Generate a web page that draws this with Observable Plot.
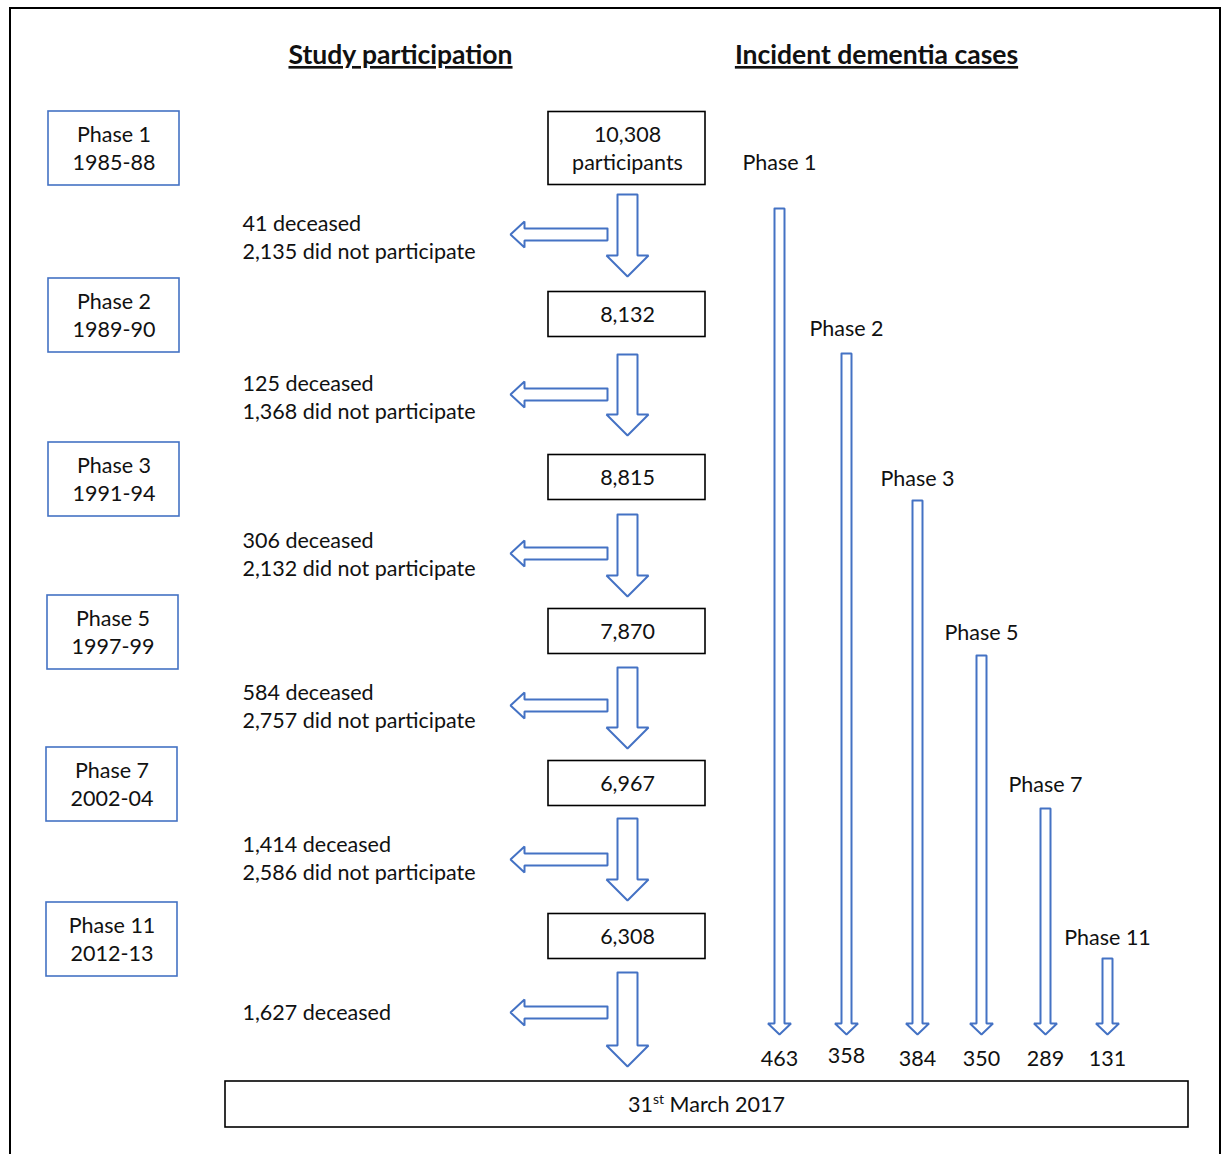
<!DOCTYPE html>
<html><head><meta charset="utf-8">
<script src="https://cdn.jsdelivr.net/npm/d3@7"></script>
<script src="https://cdn.jsdelivr.net/npm/@observablehq/plot@0.6"></script>
<style>body{margin:0;background:#fff} #chart{width:1223px;height:1154px}</style>
</head><body><div id="chart"></div>
<script>
// ---- data ----
const phases = ["Phase 1", "Phase 2", "Phase 3", "Phase 5", "Phase 7", "Phase 11"];
const years = ["1985-88", "1989-90", "1991-94", "1997-99", "2002-04", "2012-13"];
const participants = [10308, 8132, 8815, 7870, 6967, 6308];
const deceased = [41, 125, 306, 584, 1414, 1627];
const didNotParticipate = [2135, 1368, 2132, 2757, 2586, null];
const dementiaCases = [463, 358, 384, 350, 289, 131];
const titles = ["Study participation", "Incident dementia cases"];
const endLabel = "31st March 2017";

// ---- layout (pixels) ----
const W = 1223, H = 1154;
const BLUE = "#4472C4", INK = "#111";
const FS = 21.5, TFS = 26.5, LH = 28 / 21.5;
const phaseBoxY = [148, 315, 479, 632, 784, 939];
const phaseBoxX = [[48, 179], [48, 179], [48, 179], [47, 178], [46, 177], [46, 177]];
const partBoxY = [148, 314, 477, 631, 783, 936];
const downTop = [194, 354, 514, 667, 818, 972];
const downTip = [276, 435, 596, 748, 900, 1066];
const leftY = [234, 394, 553, 705, 859, 1012];
const lossTextY = [237, 397, 554, 706, 858, 1012];
const caseX = [779, 846, 917, 981, 1045, 1107];
const caseTop = [208, 353, 500, 655, 808, 958];
const caseLabelY = [162, 328, 478, 632, 784, 937];
const caseNumY = [1058, 1055, 1058, 1058, 1058, 1058];

const fmt = d3.format(",");

const phaseBoxes = phases.map((p, i) => ({
  x1: phaseBoxX[i][0], x2: phaseBoxX[i][1], y1: phaseBoxY[i] - 37, y2: phaseBoxY[i] + 37,
  cx: (phaseBoxX[i][0] + phaseBoxX[i][1]) / 2, cy: phaseBoxY[i], text: p + "\n" + years[i]
}));
const partBoxes = participants.map((v, i) => {
  const h = i === 0 ? 73 : 45;
  return {x1: 548, x2: 705, y1: partBoxY[i] - h / 2, y2: partBoxY[i] + h / 2, cx: 627, cy: partBoxY[i],
    text: i === 0 ? fmt(v) + "\nparticipants" : fmt(v)};
});
const lossText = deceased.map((d, i) => ({
  x: 242, y: lossTextY[i],
  text: fmt(d) + " deceased" + (didNotParticipate[i] != null ? "\n" + fmt(didNotParticipate[i]) + " did not participate" : "")
}));

function downArrow(id, cx, y0, y1, sw, hw, hl) {
  const pts = [[cx - sw / 2, y0], [cx + sw / 2, y0], [cx + sw / 2, y1 - hl], [cx + hw / 2, y1 - hl], [cx, y1],
    [cx - hw / 2, y1 - hl], [cx - sw / 2, y1 - hl], [cx - sw / 2, y0]];
  return pts.map(([x, y]) => ({id, x, y}));
}
function leftArrow(id, x0, x1, cy, sh, hh, hl) {
  const pts = [[x0, cy - sh / 2], [x0, cy + sh / 2], [x1 + hl, cy + sh / 2], [x1 + hl, cy + hh / 2], [x1, cy],
    [x1 + hl, cy - hh / 2], [x1 + hl, cy - sh / 2], [x0, cy - sh / 2]];
  return pts.map(([x, y]) => ({id, x, y}));
}
const arrows = [];
participants.forEach((v, i) => {
  arrows.push(...downArrow("d" + i, 627, downTop[i], downTip[i], 20, 42, 21));
  arrows.push(...leftArrow("l" + i, 607, 510, leftY[i], 12, 26, 14));
});
dementiaCases.forEach((v, i) => {
  arrows.push(...downArrow("c" + i, caseX[i], caseTop[i], 1034, 10, 23, 11));
});
const caseLabels = phases.map((p, i) => ({x: caseX[i], y: caseLabelY[i], text: p}));
const caseNums = dementiaCases.map((v, i) => ({x: caseX[i], y: caseNumY[i], text: fmt(v)}));

const T = {fontSize: FS, lineHeight: LH, fill: INK, dy: -1};
const chart = Plot.plot({
  width: W, height: H, margin: 0,
  x: {domain: [0, W], range: [0, W], axis: null},
  y: {domain: [0, H], range: [0, H], axis: null},
  style: {fontFamily: "Lato, 'Open Sans', sans-serif", fontSize: "20px", background: "white", color: INK},
  marks: [
    Plot.rect([{x1: 10, x2: 1220, y1: 8, y2: 1170}], {x1: "x1", x2: "x2", y1: "y1", y2: "y2", fill: "none", stroke: "#000", strokeWidth: 2}),
    Plot.text([{x: 400, y: 56, t: titles[0]}, {x: 876, y: 56, t: titles[1]}], {x: "x", y: "y", text: "t", fontSize: TFS, fontWeight: "bold", fill: INK, dy: -1}),
    Plot.rect(phaseBoxes, {x1: "x1", x2: "x2", y1: "y1", y2: "y2", fill: "white", stroke: BLUE, strokeWidth: 1.6}),
    Plot.text(phaseBoxes, {x: "cx", y: "cy", text: "text", ...T}),
    Plot.rect(partBoxes, {x1: "x1", x2: "x2", y1: "y1", y2: "y2", fill: "white", stroke: "#000", strokeWidth: 1.6}),
    Plot.text(partBoxes, {x: "cx", y: "cy", text: "text", ...T}),
    Plot.line(arrows, {x: "x", y: "y", z: "id", stroke: BLUE, strokeWidth: 2, strokeLinejoin: "miter", curve: "linear"}),
    Plot.text(lossText, {x: "x", y: "y", text: "text", textAnchor: "start", ...T}),
    Plot.text(caseLabels, {x: "x", y: "y", text: "text", ...T}),
    Plot.text(caseNums, {x: "x", y: "y", text: "text", ...T}),
    Plot.rect([{x1: 225, x2: 1188, y1: 1081, y2: 1127}], {x1: "x1", x2: "x2", y1: "y1", y2: "y2", fill: "white", stroke: "#000", strokeWidth: 1.6}),
    Plot.text([{x: 706, y: 1104, t: endLabel}], {x: "x", y: "y", text: "t", ...T})
  ]
});
document.getElementById("chart").append(chart);

// underline titles, superscript in end label
d3.select(chart).selectAll("text").each(function () {
  const el = d3.select(this);
  const t = this.textContent;
  if (titles.includes(t)) el.style("text-decoration", "underline");
  if (t === endLabel) {
    this.textContent = "";
    el.append("tspan").text("31");
    el.append("tspan").attr("dy", -8).attr("font-size", "14px").text("st");
    el.append("tspan").attr("dy", 8).text(" March 2017");
  }
});
</script>
</body></html>
